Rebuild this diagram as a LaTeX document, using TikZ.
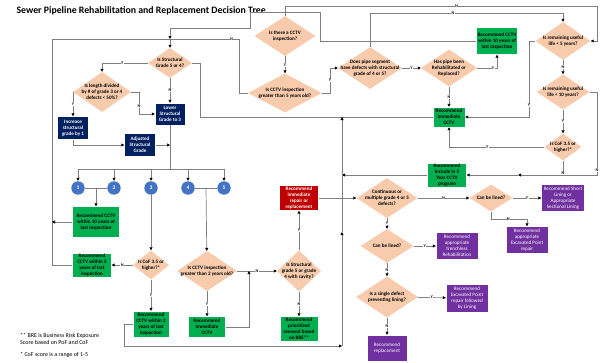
\documentclass[tikz,border=0pt]{standalone}
\usepackage{fontspec}
\setmainfont{Carlito}
\usetikzlibrary{shapes.geometric,arrows.meta}
\definecolor{peche}{HTML}{F8CBAD}
\definecolor{marine}{HTML}{002060}
\definecolor{vertb}{HTML}{00B050}
\definecolor{rouge}{HTML}{C00000}
\definecolor{violet}{HTML}{7030A0}
\definecolor{bleu}{HTML}{4472C4}
\definecolor{trait}{HTML}{7F7F7F}

\begin{document}
\begin{tikzpicture}[x=1pt,y=-1pt]
\tikzset{question/.style 2 args={diamond, fill=peche, minimum width=#1, minimum height=#2, inner sep=0pt},
qtxt/.style={align=center, inner sep=0pt, font=\fontsize{5.1}{6}\selectfont\bfseries},
boite/.style 2 args={rectangle, draw=white, line width=0.4pt, minimum width=#1, minimum height=#2, inner sep=0pt, align=center, font=\fontsize{5.1}{6}\selectfont\bfseries},
vert/.style 2 args={boite={#1}{#2}, fill=vertb},
bleunuit/.style 2 args={boite={#1}{#2}, fill=marine, text=white},
urgent/.style 2 args={boite={#1}{#2}, fill=rouge, text=white},
travaux/.style 2 args={boite={#1}{#2}, fill=violet, text=white, font=\fontsize{5.1}{6}\selectfont},
rond/.style={circle, fill=bleu, draw=white, line width=0.4pt, minimum size=14pt, inner sep=0pt, text=white, font=\fontsize{5.5}{6}\selectfont\bfseries},
lien/.style={draw=trait, line width=0.7pt},
fl/.style={lien, -{Triangle[length=3pt,width=3pt,color=black]}},
lab/.style={fill=white, inner sep=0.4pt, font=\fontsize{4.2}{4.2}\selectfont\bfseries}}
\useasboundingbox (0,0) rectangle (601,362);
\node[anchor=west, font=\fontsize{9.8}{11}\selectfont\bfseries] (titre) at (13,11) {Sewer Pipeline Rehabilitation and Replacement Decision Tree};

% questions
\node[question={61pt}{40pt}, label={[qtxt]center:{Is there a CCTV\\inspection?}}] (Q3) at (285,36) {};
\node[question={74pt}{39pt}, label={[qtxt]center:{Is CCTV inspection\\greater than 5 years old?}}] (Q4) at (285,93) {};
\node[question={44pt}{30pt}, label={[qtxt]center:{Is Structural\\Grade 5 or 4?}}] (Q1) at (170,63) {};
\node[question={58pt}{40pt}, label={[qtxt]center:{Is length divided\\by \# of grade 3 or 4\\defects < 50\%?}}] (Q2) at (102,92) {};
\node[question={64pt}{42pt}, label={[qtxt]center:{Does pipe segment\\have defects with structural\\grade of 4 or 5?}}] (Q5) at (370,68) {};
\node[question={56pt}{37pt}, label={[qtxt]center:{Has pipe been\\Rehabilitated or\\Replaced?}}] (Q6) at (449,68) {};
\node[question={55pt}{38pt}, label={[qtxt]center:{Is remaining useful\\life < 5 years?}}] (QL5) at (563,41) {};
\node[question={53pt}{35pt}, label={[qtxt]center:{Is remaining useful\\life < 10 years?}}] (QL10) at (563,92) {};
\node[question={37pt}{27pt}, label={[qtxt]center:{Is CoF 3.5 or\\higher?*}}] (QC) at (563,147) {};
\node[question={36pt}{29pt}, label={[qtxt]center:{Is CoF 3.5 or\\higher?*}}] (Q10) at (151,265) {};
\node[question={60pt}{40pt}, label={[qtxt]center:{Is CCTV inspection\\greater than 2 years old?}}] (Q8) at (207,271) {};
\node[question={44pt}{41pt}, label={[qtxt]center:{Is Structural\\grade 5 or grade\\4 with cavity?}}] (Q9) at (299,271) {};
\node[question={61pt}{40pt}, label={[qtxt]center:{Continuous or\\multiple grade 4 or 5\\defects?}}] (Q7) at (387,198) {};
\node[question={43pt}{27pt}, label={[qtxt]center:{Can be lined?}}] (Q71) at (491,198) {};
\node[question={53pt}{34pt}, label={[qtxt]center:{Can be lined?}}] (Q11) at (387,246) {};
\node[question={62pt}{41pt}, label={[qtxt]center:{Is a single defect\\preventing lining?}}] (Q12) at (387,297) {};

% boxes
\node[bleunuit={30pt}{22pt}] (Lower) at (170,114) {Lower\\Structural\\Grade to 3};
\node[bleunuit={31pt}{23pt}] (Incr) at (73,128) {Increase\\structural\\grade by 1};
\node[bleunuit={31pt}{23pt}] (Adj) at (140,145) {Adjusted\\Structural\\Grade};
\node[vert={47pt}{31pt}] (G1) at (96,222) {Recommend CCTV\\within 10 years of\\last inspection};
\node[vert={39pt}{24pt}] (G2) at (92,265) {Recommend\\CCTV within 5\\years of last\\inspection};
\node[vert={36pt}{26pt}] (G3) at (151,324) {Recommend\\CCTV within 2\\years of last\\inspection};
\node[vert={37pt}{21pt}] (G4) at (207,327) {Recommend\\Immediate\\CCTV};
\node[vert={38pt}{25pt}] (G5) at (299,329) {Recommend\\prioritized\\renewal based\\on BRE**};
\node[urgent={39pt}{25pt}] (R1) at (299,198) {Recommend\\immediate\\repair or\\replacement};
\node[vert={41pt}{27pt}] (G6) at (497,41) {Recommend CCTV\\within 10 years of\\last inspection};
\node[vert={32pt}{20pt}] (G7) at (449,117) {Recommend\\Immediate\\CCTV};
\node[vert={39pt}{24pt}] (G8) at (447,175) {Recommend\\Include in 5\\Year CCTV\\program};
\node[travaux={43pt}{27pt}] (P1) at (563,198) {Recommend Short\\Lining or\\Appropriate\\Sectional Lining};
\node[travaux={42pt}{27pt}] (P2) at (527,240) {Recommend\\appropriate\\Excavated Point\\repair};
\node[travaux={42pt}{27pt}] (P3) at (457,246) {Recommend\\appropriate\\trenchless\\Rehabilitation};
\node[travaux={42pt}{28pt}] (P4) at (467,298) {Recommend\\Excavated Point\\repair followed\\by Lining};
\node[travaux={40pt}{26pt}] (P5) at (387,348) {Recommend\\replacement};

% grades
\node[rond] (C1) at (78,188) {1};
\node[rond] (C2) at (114,188) {2};
\node[rond] (C3) at (151,188) {3};
\node[rond] (C4) at (188,188) {4};
\node[rond] (C5) at (224,188) {5};
\coordinate (bus) at (78,169);
\coordinate (j1) at (96,188);
\coordinate (j2) at (206,188);

% notes
\node[anchor=north west, align=left, inner sep=0pt, font=\fontsize{6}{7}\selectfont] (note1) at (20,333) {** BRE is Business Risk Exposure\\Score based on PoF and CoF};
\node[anchor=west, inner sep=0pt, font=\fontsize{6}{7}\selectfont] (note2) at (20,355) {* CoF score is a range of 1-5};

% connectors, top part
\draw[fl] (Q3) -- node[lab]{Y} (Q4);
\draw[fl] (Q3.north) -- (285,6) -- node[lab,pos=0.55]{N} (597,6) -- (597,41) -- (QL5.east);
\draw[fl] (Q4.east) -| node[lab,pos=0.75]{Y} (330,68) -- (Q5.west);
\draw[lien] (Q4.west) -| (239,39) -- node[lab,pos=0.04]{N} (52,39) -- (52,265) -- (G2.west);
\draw[fl] (G1.west) -- (52,222);
\draw[fl] (G6.west) -- (320,41) -- (320,12) -- (250,12) -- (250,28) -- (170,28) -- (170,39);
\draw[fl] (170,39) -- (Q1.north);
\draw[fl] (Q5.north) |- node[lab,pos=0.715]{N} (563,13) -- (QL5.north);
\draw[fl] (Q5) -- node[lab]{Y} (Q6);
\draw[fl] (Q6.east) -| node[lab,pos=0.4]{Y} (G6.south);
\draw[fl] (Q6) -- node[lab]{N} (G7);
\draw[fl] (QL5.west) -- (529,41) -- node[lab,pos=0.85]{Y} (529,117) -- (G7.east);
\draw[fl] (QL5) -- node[lab]{N} (QL10);
\draw[fl] (QL10.east) -- (597,92) -- node[lab,pos=0.94]{N} (597,175) -- (518,175);
\draw[fl] (518,175) -- (G8.east);
\draw[fl] (QL10) -- node[lab]{Y} (QC);
\draw[fl] (QC.west) -| node[lab,pos=0.3]{Y} (G7.south);
\draw[lien] (QC.south) -- node[lab,pos=0.9]{N} (563,175);
\draw[lien] (Q1.east) -| (200,117) -- (G7.west);
\draw[fl] (G8.west) -- (342,175);

% left part
\draw[fl] (Q1.west) -| node[lab,pos=0.28]{Y} (Q2.north);
\draw[fl] (Q1) -- node[lab]{N} (Lower);
\draw[fl] (Q2.west) -| node[lab,pos=0.75]{Y} (Incr.north);
\draw[fl] (Q2.east) -| node[lab,pos=0.82]{N} (139,114) -- (Lower.west);
\draw[fl] (Incr.south) |- (Adj.west);
\draw[fl] (Adj.east) -- (Adj.east -| Lower);
\draw[lien] (Lower) -- (Lower |- bus);
\draw[lien] (bus) -- (C5 |- bus);
\foreach \c in {1,...,5} \draw[fl] (C\c |- bus) -- (C\c);
\draw[lien] (C1) -- (C2);
\draw[fl] (j1) -- (G1);
\draw[lien] (C4) -- (C5);
\draw[fl] (j2) -- (Q8);
\draw[fl] (C3) -- (Q10);
\draw[fl] (Q10) -- node[lab]{N} (G2);
\draw[fl] (Q10) -- node[lab]{Y} (G3);
\draw[fl] (G3.west) -| (124,346) -- (342,346);
\draw[fl] (342,346) -- (342,232);
\draw[fl] (342,232) -- (342,117);
\draw[fl] (Q8) -- node[lab]{Y} (G4);
\draw[fl] (Q8) -- node[lab]{N} (Q9);
\draw[fl] (G4.east) -| (249,271);
\draw[fl] (Q9) -- node[lab]{Y} (R1);
\draw[fl] (Q9) -- node[lab]{N} (G5);

% right part
\draw[fl] (R1) -- (Q7);
\draw[fl] (Q7) -- node[lab]{N} (Q71);
\draw[fl] (Q71) -- node[lab]{Y} (P1);
\draw[fl] (Q71.south) -- (491,219) -| node[lab,pos=0.24]{N} (P2.north);
\draw[fl] (Q7) -- node[lab]{Y} (Q11);
\draw[fl] (Q11) -- node[lab]{Y} (P3);
\draw[fl] (Q11) -- node[lab]{N} (Q12);
\draw[fl] (Q12) -- node[lab]{Y} (P4);
\draw[fl] (Q12) -- node[lab]{N} (P5);
\end{tikzpicture}
\end{document}
